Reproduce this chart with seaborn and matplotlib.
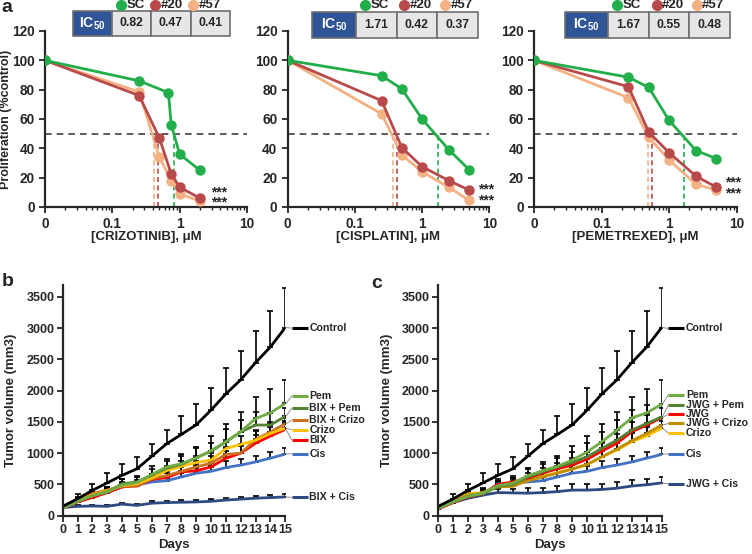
import pandas as pd
import matplotlib
matplotlib.use("Agg")
import matplotlib.pyplot as plt
import seaborn as sns
from matplotlib.patches import Rectangle
from matplotlib.ticker import FixedLocator, LogLocator, NullFormatter

sns.set_style("ticks")
plt.rcParams['font.family'] = ['Liberation Sans', 'DejaVu Sans']
plt.rcParams['font.weight'] = 'bold'
plt.rcParams['axes.labelweight'] = 'bold'
plt.rcParams['mathtext.fontset'] = 'custom'
plt.rcParams['mathtext.bf'] = 'Liberation Sans:bold'
plt.rcParams['mathtext.rm'] = 'Liberation Sans:bold'

# ---- panel a: proliferation dose response ----
cell_lines = ["SC", "#20", "#57"]
line_colors = ["#22AE4B", "#B84A4C", "#F4B183"]

criz_conc_sc = [0, 0.25, 0.68, 0.75, 1, 2]
criz_conc_ko = [0, 0.25, 0.5, 0.75, 1, 2]
criz_sc = [100, 86, 78, 56, 36, 25]
criz_20 = [100, 76, 47, 22.5, 13.5, 6]
criz_57 = [100, 78.5, 34, 18, 9, 4]
criz_ic50 = [0.82, 0.47, 0.41]

cis_conc = [0, 0.25, 0.5, 1, 2.5, 5]
cis_sc = [100, 89.5, 80.5, 60, 39, 25.5]
cis_20 = [100, 72.5, 40.5, 27.5, 18, 11.5]
cis_57 = [100, 63.5, 35.5, 24, 13.5, 4.5]
cis_ic50 = [1.71, 0.42, 0.37]

pem_conc = [0, 0.25, 0.5, 1, 2.5, 5]
pem_sc = [100, 88.5, 81.5, 59, 38.5, 33]
pem_20 = [100, 82, 51, 37, 21, 13.5]
pem_57 = [100, 74.5, 47.5, 32, 15.5, 11.5]
pem_ic50 = [1.67, 0.55, 0.48]

drug_labels = ["[CRIZOTINIB], μM", "[CISPLATIN], μM", "[PEMETREXED], μM"]
ZERO_POS = 0.01  # where "0" concentration sits on the log axis

# ---- panels b and c: tumor volume ----
days = list(range(16))
control = [150, 270, 405, 525, 645, 750, 950, 1150, 1300, 1455, 1690, 1950, 2175, 2450, 2700, 3010]
control_err = [0, 75, 110, 150, 185, 190, 195, 225, 290, 325, 355, 415, 455, 505, 570, 640]

b_pem = [120, 230, 320, 380, 490, 530, 660, 780, 830, 920, 1040, 1185, 1345, 1555, 1645, 1795]
b_pem_err = [0, 50, 70, 80, 100, 110, 130, 130, 150, 185, 235, 280, 320, 350, 380, 375]
b_bix_pem = [120, 230, 320, 380, 510, 540, 650, 760, 820, 930, 1030, 1180, 1340, 1450, 1450, 1590]
b_bix_pem_err = [0, 40, 50, 60, 80, 80, 100, 110, 130, 150, 130, 200, 190, 210, 200, 130]
b_bix_crizo = [130, 260, 355, 410, 470, 470, 590, 640, 710, 780, 840, 980, 1000, 1220, 1340, 1470]
b_bix_crizo_err = [0, 40, 50, 50, 60, 60, 70, 80, 80, 100, 110, 120, 130, 150, 160, 100]
b_crizo = [130, 240, 330, 400, 480, 510, 600, 720, 790, 850, 890, 1075, 1140, 1205, 1315, 1400]
b_crizo_err = [0, 40, 40, 50, 60, 60, 70, 80, 90, 100, 110, 130, 140, 150, 150, 120]
b_bix = [120, 220, 290, 370, 460, 480, 580, 610, 700, 720, 780, 920, 1000, 1160, 1275, 1380]
b_bix_err = [0, 30, 40, 50, 60, 60, 70, 70, 80, 90, 100, 110, 120, 130, 140, 120]
cis = [130, 230, 300, 370, 460, 490, 540, 560, 620, 680, 710, 770, 810, 860, 920, 985]
cis_err = [0, 30, 40, 40, 50, 50, 60, 60, 70, 80, 90, 100, 100, 100, 100, 105]
b_bix_cis = [130, 150, 155, 150, 185, 165, 200, 210, 215, 220, 230, 250, 265, 280, 290, 300]
b_bix_cis_err = [0, 20, 20, 20, 25, 25, 30, 30, 30, 35, 35, 35, 40, 40, 40, 40]

c_pem = [120, 220, 310, 360, 480, 520, 640, 720, 790, 890, 1020, 1185, 1370, 1565, 1645, 1785]
c_pem_err = [0, 50, 70, 80, 100, 110, 130, 140, 170, 230, 250, 280, 290, 337, 380, 385]
c_jwg_pem = [120, 220, 310, 350, 470, 500, 620, 700, 780, 850, 945, 1080, 1210, 1370, 1475, 1580]
c_jwg_pem_err = [0, 40, 60, 70, 90, 100, 120, 130, 150, 170, 210, 260, 320, 320, 300, 200]
c_jwg = [110, 210, 300, 350, 500, 540, 600, 680, 750, 810, 905, 1035, 1160, 1345, 1450, 1570]
c_jwg_err = [0, 30, 40, 50, 60, 70, 80, 90, 100, 110, 120, 130, 140, 150, 160, 150]
c_jwg_crizo = [130, 230, 330, 360, 460, 470, 560, 620, 680, 745, 820, 945, 1065, 1200, 1315, 1450]
c_jwg_crizo_err = [0, 30, 40, 50, 60, 60, 70, 80, 90, 100, 110, 120, 130, 140, 150, 120]
c_crizo = [130, 240, 350, 370, 480, 480, 560, 630, 690, 750, 820, 940, 1050, 1185, 1275, 1400]
c_crizo_err = [0, 30, 40, 50, 60, 60, 70, 80, 90, 100, 110, 120, 130, 140, 150, 120]
c_cis = [130, 230, 290, 330, 510, 520, 540, 560, 620, 680, 710, 770, 810, 860, 920, 980]
c_jwg_cis = [120, 210, 280, 330, 370, 365, 360, 370, 385, 410, 410, 420, 440, 475, 495, 525]
c_jwg_cis_err = [0, 30, 40, 50, 60, 70, 80, 80, 90, 95, 95, 95, 95, 95, 95, 90]

b_groups = ["Cis", "BIX + Cis", "BIX", "BIX + Crizo", "Crizo", "BIX + Pem", "Pem", "Control"]
b_values = [cis, b_bix_cis, b_bix, b_bix_crizo, b_crizo, b_bix_pem, b_pem, control]
b_errors = [cis_err, b_bix_cis_err, b_bix_err, b_bix_crizo_err, b_crizo_err, b_bix_pem_err, b_pem_err, control_err]
b_colors = ["#4472C4", "#2F4A80", "#FF0000", "#CC6F1F", "#FFC000", "#548235", "#70AD47", "black"]
b_label_y = [990, 293, 1215, 1530, 1375, 1720, 1915, 3000]

c_groups = ["Cis", "JWG + Cis", "Crizo", "JWG + Crizo", "JWG", "JWG + Pem", "Pem", "Control"]
c_values = [c_cis, c_jwg_cis, c_crizo, c_jwg_crizo, c_jwg, c_jwg_pem, c_pem, control]
c_errors = [cis_err, c_jwg_cis_err, c_crizo_err, c_jwg_crizo_err, c_jwg_err, c_jwg_pem_err, c_pem_err, control_err]
c_colors = ["#4472C4", "#2F4A80", "#FFC000", "#BF8F00", "#FF0000", "#548235", "#70AD47", "black"]
c_label_y = [990, 505, 1320, 1475, 1625, 1770, 1935, 2995]

fig = plt.figure(figsize=(7.52, 5.54), dpi=100)


def px_axes(left, top, right, bottom):
    W, H = 752.0, 554.0
    return fig.add_axes([left / W, 1 - bottom / H, (right - left) / W, (bottom - top) / H])


# ---------- panel a ----------
a_boxes = [(45, 31, 247, 207), (287.7, 31, 489.3, 207), (534, 31, 736.7, 207)]
a_concs = [(criz_conc_sc, criz_conc_ko, criz_conc_ko), (cis_conc, cis_conc, cis_conc), (pem_conc, pem_conc, pem_conc)]
a_vals = [(criz_sc, criz_20, criz_57), (cis_sc, cis_20, cis_57), (pem_sc, pem_20, pem_57)]
a_ic50 = [criz_ic50, cis_ic50, pem_ic50]
star_x = [2.9, 6.8, 6.8]
star_y = [6.5, 8, 13]

for k in range(3):
    ax = px_axes(*a_boxes[k])
    ax.set_xscale('log')
    ax.axhline(50, color='#404040', lw=1.2, ls=(0, (4, 3)), zorder=1)
    for i in range(3):
        ax.plot([a_ic50[k][i], a_ic50[k][i]], [0, 50], color=line_colors[i], lw=1.2, ls=(0, (3, 2)), zorder=1)
    for i in (2, 1, 0):
        xs = [c if c > 0 else ZERO_POS for c in a_concs[k][i]]
        sns.lineplot(x=xs, y=a_vals[k][i], ax=ax, color=line_colors[i], lw=2, marker='o',
                     markersize=7.5, markeredgewidth=0, zorder=3)
    ax.text(star_x[k], star_y[k], "***\n***", fontsize=10, ha='left', va='center',
            linespacing=0.7, clip_on=False)
    ax.set_xlim(ZERO_POS, 10)
    ax.set_ylim(0, 120)
    ax.set_yticks(range(0, 121, 20))
    ax.xaxis.set_major_locator(FixedLocator([0.01, 0.1, 1, 10]))
    ax.set_xticklabels(["0", "0.1", "1", "10"])
    ax.xaxis.set_minor_locator(LogLocator(base=10, subs=range(2, 10)))
    ax.xaxis.set_minor_formatter(NullFormatter())
    ax.tick_params(axis='both', which='major', labelsize=9.8, width=1.3, length=4)
    ax.tick_params(axis='x', which='minor', width=1, length=2.5)
    for s in ('left', 'bottom'):
        ax.spines[s].set_linewidth(1.6)
    sns.despine(ax=ax)
    ax.set_xlabel(drug_labels[k], fontsize=9.5)
    ax.xaxis.set_label_coords(0.5, -0.135)
    if k == 0:
        ax.set_ylabel("Proliferation (%control)", fontsize=9)
        ax.yaxis.set_label_coords(-0.165, 0.5)
    else:
        ax.set_ylabel("")

# ---------- panels b and c ----------
bc_boxes = [(62.7, 285, 285.3, 515.7), (438.3, 285, 661.7, 515.7)]
bc_groups = [b_groups, c_groups]
bc_values = [b_values, c_values]
bc_errors = [b_errors, c_errors]
bc_colors = [b_colors, c_colors]
bc_label_y = [b_label_y, c_label_y]
seg_x = [(15.43, 16.5, 16.62), (15.45, 16.5, 16.62)]
ylab_x = [-0.205, -0.203]

for k in range(2):
    ax = px_axes(*bc_boxes[k])
    df = pd.DataFrame({
        "Day": days * len(bc_groups[k]),
        "Volume": [v for vals in bc_values[k] for v in vals],
        "Group": [g for g in bc_groups[k] for _ in days],
    })
    for vals, err in zip(bc_values[k], bc_errors[k]):
        ax.errorbar(days, vals, yerr=[[0] * len(err), err], fmt='none', ecolor='black',
                    elinewidth=1.2, capsize=2.2, capthick=1.2, zorder=1)
    sns.lineplot(data=df, x="Day", y="Volume", hue="Group", hue_order=bc_groups[k],
                 palette=bc_colors[k], lw=2, legend=False, ax=ax, zorder=2)
    x0, x1, xt = seg_x[k]
    for g, vals, col, ly in zip(bc_groups[k], bc_values[k], bc_colors[k], bc_label_y[k]):
        ax.plot([15.05, x0], [vals[-1], ly], color='#808080', lw=0.6, clip_on=False)
        ax.plot([x0, x1], [ly, ly], color=col, lw=2.2, clip_on=False, solid_capstyle='butt')
        ax.text(xt, ly, g, fontsize=7.6, ha='left', va='center', clip_on=False)
    ax.set_xlim(0, 15)
    ax.set_ylim(0, 3690)
    ax.set_xticks(days)
    ax.set_yticks(range(0, 3501, 500))
    ax.tick_params(axis='both', labelsize=9, width=1.3, length=4, pad=2)
    for s in ('left', 'bottom'):
        ax.spines[s].set_linewidth(1.6)
    sns.despine(ax=ax)
    ax.set_xlabel("Days", fontsize=9.5)
    ax.xaxis.set_label_coords(0.5, -0.1)
    ax.set_ylabel("Tumor volume (mm3)", fontsize=9.5)
    ax.yaxis.set_label_coords(ylab_x[k], 0.5)

# ---------- overlay: IC50 tables, legends, panel letters ----------
ov = fig.add_axes([0, 0, 1, 1], zorder=10)
ov.set_xlim(0, 752)
ov.set_ylim(554, 0)
ov.axis('off')
ov.patch.set_alpha(0)

tables = [(73, 11, 39, 39.3, 25), (312, 12, 44, 40.6, 26), (565, 12, 43, 40.5, 26)]
legend_x = [(120.7, 155, 193.3), (365, 404.3, 445), (616.7, 656.7, 696.7)]
for k in range(3):
    x0, y0, wb, wc, h = tables[k]
    ov.add_patch(Rectangle((x0, y0), wb, h, facecolor='#2F5597', edgecolor='#6F6F6F', lw=1.2))
    ov.text(x0 + wb / 2, y0 + h / 2, r"$\mathbf{IC_{50}}$", color='white', fontsize=10,
            ha='center', va='center')
    for i, v in enumerate(a_ic50[k]):
        cx = x0 + wb + i * wc
        ov.add_patch(Rectangle((cx, y0), wc, h, facecolor='#E6E6E6', edgecolor='#6F6F6F', lw=1.2))
        ov.text(cx + wc / 2, y0 + h / 2, f"{v:.2f}", fontsize=8.8, ha='center', va='center')
    for i in range(3):
        mx = legend_x[k][i]
        ov.plot([mx], [5], marker='o', ms=8, color=line_colors[i], mew=0, clip_on=False)
        ov.text(mx + 5.5, 5, cell_lines[i], fontsize=9.5, ha='left', va='center')

ov.text(1, 8, "a", fontsize=14, ha='left', va='center')
ov.text(2, 282, "b", fontsize=14, ha='left', va='center')
ov.text(371, 283, "c", fontsize=14, ha='left', va='center')

fig.savefig("out.png", dpi=100)
